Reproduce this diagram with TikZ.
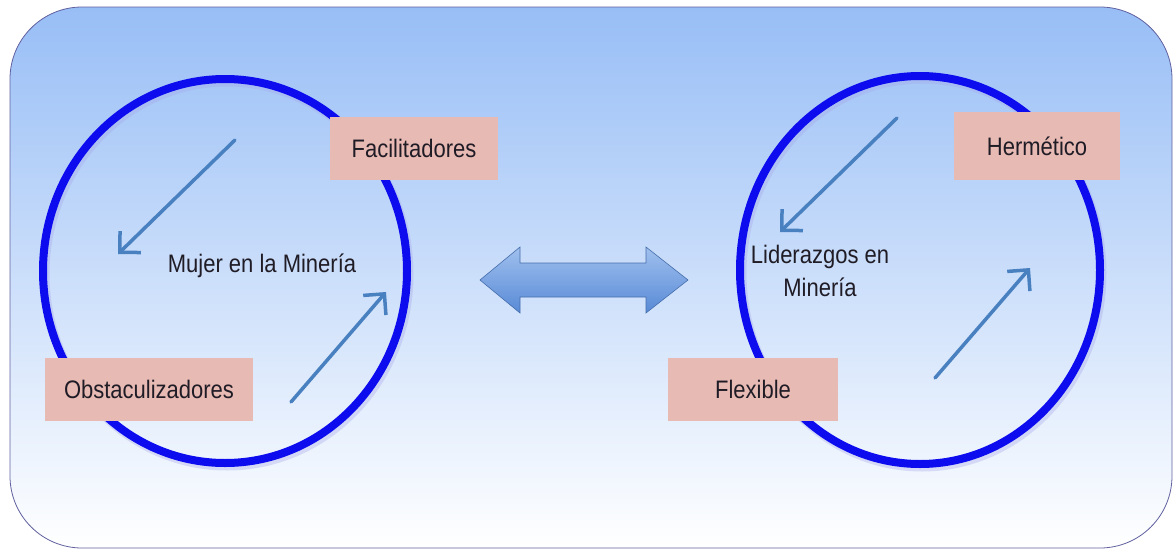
\documentclass[tikz,border=0pt]{standalone}
\usepackage{fontspec}
\setmainfont{Liberation Sans}
\usetikzlibrary{arrows.meta,shadings}
\definecolor{bgtop}{RGB}{152,190,246}
\definecolor{bgmid}{RGB}{180,204,240}
\definecolor{ringblue}{RGB}{12,12,238}
\definecolor{boxfill}{RGB}{232,186,180}
\definecolor{txt}{RGB}{32,28,38}
\definecolor{smallarrow}{RGB}{72,128,192}
\definecolor{bigarrowA}{RGB}{160,192,238}
\definecolor{bigarrowB}{RGB}{88,138,214}
\newcommand\tallt[1]{\scalebox{1}[1.15]{#1}}
\tikzset{
  ring/.style={draw=ringblue, line width=8pt},
  ring shadow/.style={draw=black!25!blue!35, line width=9pt, opacity=0.35},
  label box/.style={fill=boxfill, minimum height=63pt, inner sep=0pt, text=txt,
     font=\fontsize{22}{26}\selectfont},
  plain text/.style={text=txt, align=center, font=\fontsize{22}{26}\selectfont},
  flow arrow/.style={draw=smallarrow, line width=3.5pt, line cap=round,
     -{Straight Barb[length=15pt,width=30pt,line width=3.5pt]}},
}
\begin{document}
\begin{tikzpicture}[x=1pt,y=-1pt]
\useasboundingbox (0,0) rectangle (1176,552);
% background panel
\shade[top color=bgtop, middle color=bgmid, bottom color=white, draw=gray!75!blue, line width=0.8pt, rounded corners=72pt]
  (10,7) rectangle (1172,548);
% rings
\draw[ring shadow] (227,274) ellipse [x radius=182, y radius=192];
\draw[ring shadow] (922,273) ellipse [x radius=180, y radius=194];
\draw[ring] (225,271) ellipse [x radius=182, y radius=192];
\draw[ring] (920,270) ellipse [x radius=180, y radius=194];
% boxes
\node[label box, minimum width=168pt] (fac) at (414,148) {\tallt{Facilitadores}};
\node[label box, minimum width=208pt] (obs) at (149,389) {\tallt{Obstaculizadores}};
\node[label box, minimum width=166pt, minimum height=68pt] (her) at (1037,146) {\tallt{Hermético}};
\node[label box, minimum width=170pt] (flex) at (753,389) {\tallt{Flexible}};
% center texts
\node[plain text] (mujer) at (262,266) {\tallt{Mujer en la Minería}};
\node[plain text] (lider) at (820,274) {\tallt{\begin{tabular}{@{}c@{}}Liderazgos en\\[3pt]Minería\end{tabular}}};
% small arrows
\coordinate (a1s) at (235,140); \coordinate (a1e) at (118,254);
\coordinate (a2s) at (291,402); \coordinate (a2e) at (386,292);
\coordinate (a3s) at (897,118); \coordinate (a3e) at (780,232);
\coordinate (a4s) at (935,378); \coordinate (a4e) at (1030,268);
\draw[flow arrow] (a1s) -- (a1e);
\draw[flow arrow] (a2s) -- (a2e);
\draw[flow arrow] (a3s) -- (a3e);
\draw[flow arrow] (a4s) -- (a4e);
% double arrow
\shade[top color=bigarrowA, bottom color=bigarrowB, draw=bigarrowB!80!black, line width=0.6pt]
  (480,280) -- (520,247) -- (520,263) -- (646,263) -- (646,247) -- (688,280)
  -- (646,313) -- (646,297) -- (520,297) -- (520,313) -- cycle;
\end{tikzpicture}
\end{document}
